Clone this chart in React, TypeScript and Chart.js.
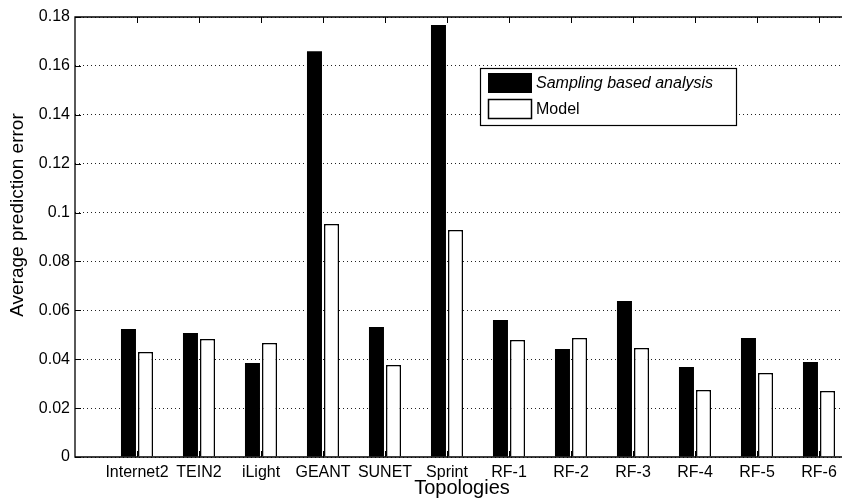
import React, { useEffect, useRef } from "react";
import { Chart, registerables } from "chart.js";

Chart.register(...registerables);

const categories = ["Internet2", "TEIN2", "iLight", "GEANT", "SUNET", "Sprint", "RF-1", "RF-2", "RF-3", "RF-4", "RF-5", "RF-6"];
const samplingValues = [0.0524, 0.0507, 0.0385, 0.166, 0.0532, 0.1767, 0.056, 0.0442, 0.0638, 0.0368, 0.0487, 0.0389];
const modelValues = [0.043, 0.0483, 0.0466, 0.0953, 0.0376, 0.0929, 0.0479, 0.0487, 0.0446, 0.0274, 0.0344, 0.027];
const yTickValues = [0, 0.02, 0.04, 0.06, 0.08, 0.1, 0.12, 0.14, 0.16, 0.18];
const yTickLabels = ["0", "0.02", "0.04", "0.06", "0.08", "0.1", "0.12", "0.14", "0.16", "0.18"];
const seriesNames = ["Sampling based analysis", "Model"];
const xTitle = "Topologies";
const yTitle = "Average prediction error";

const FONT = "'Liberation Sans', Arial, Helvetica, sans-serif";

const framePlugin = {
  id: "frame",
  afterDatasetsDraw(chart: any) {
    const { ctx, chartArea } = chart;
    const { left, right, top, bottom } = chartArea;
    const xs = chart.scales.x;
    const ys = chart.scales.y;
    ctx.save();
    ctx.strokeStyle = "#000";
    ctx.lineWidth = 1.3;
    ctx.beginPath();
    ctx.moveTo(left, top);
    ctx.lineTo(right, top);
    ctx.lineTo(right, bottom);
    ctx.lineTo(left, bottom);
    ctx.closePath();
    ctx.stroke();
    const tl = 6;
    ctx.lineWidth = 1;
    ctx.beginPath();
    for (let i = 1; i <= categories.length; i++) {
      const x = Math.round(xs.getPixelForValue(i)) + 0.5;
      ctx.moveTo(x, top);
      ctx.lineTo(x, top + tl);
      ctx.moveTo(x, bottom);
      ctx.lineTo(x, bottom - tl);
    }
    yTickValues.forEach((v) => {
      const y = Math.round(ys.getPixelForValue(v)) + 0.5;
      ctx.moveTo(left, y);
      ctx.lineTo(left + tl, y);
      ctx.moveTo(right, y);
      ctx.lineTo(right - tl, y);
    });
    ctx.stroke();
    ctx.restore();
  },
};

const legendPlugin = {
  id: "boxLegend",
  afterDraw(chart: any) {
    const { ctx, chartArea } = chart;
    const bx = chartArea.left + 405;
    const by = chartArea.top + 51;
    const bw = 256;
    const bh = 57;
    ctx.save();
    ctx.fillStyle = "#fff";
    ctx.fillRect(bx, by, bw, bh);
    ctx.strokeStyle = "#000";
    ctx.lineWidth = 1.2;
    ctx.strokeRect(bx + 0.5, by + 0.5, bw, bh);
    // swatches
    ctx.fillStyle = "#000";
    ctx.fillRect(bx + 8, by + 5, 44, 20);
    ctx.fillStyle = "#fff";
    ctx.fillRect(bx + 8, by + 31, 44, 20);
    ctx.lineWidth = 1.5;
    ctx.strokeRect(bx + 8.5, by + 31.5, 43, 19);
    ctx.fillStyle = "#000";
    ctx.textBaseline = "middle";
    ctx.textAlign = "left";
    ctx.font = `italic 16px ${FONT}`;
    ctx.fillText(seriesNames[0], bx + 56, by + 16);
    ctx.font = `16px ${FONT}`;
    ctx.fillText(seriesNames[1], bx + 56, by + 42);
    ctx.restore();
  },
};

const titlePlugin = {
  id: "axisTitles",
  afterDraw(chart: any) {
    const { ctx } = chart;
    ctx.save();
    ctx.fillStyle = "#000";
    ctx.textAlign = "center";
    ctx.textBaseline = "middle";
    ctx.font = `20px ${FONT}`;
    ctx.fillText(xTitle, 462, 488);
    ctx.translate(18, 215);
    ctx.rotate(-Math.PI / 2);
    ctx.font = `19px ${FONT}`;
    ctx.fillText(yTitle, 0, 0);
    ctx.restore();
  },
};

export default function App() {
  const canvasRef = useRef<HTMLCanvasElement | null>(null);

  useEffect(() => {
    if (!canvasRef.current) return;
    const labels = ["", ...categories, ""];
    const chart = new Chart(canvasRef.current, {
      type: "bar",
      data: {
        labels,
        datasets: [
          {
            label: seriesNames[0],
            data: [null, ...samplingValues, null],
            backgroundColor: "#000",
            borderColor: "#000",
            borderWidth: 0,
            barPercentage: 0.88,
            categoryPercentage: 0.55,
          },
          {
            label: seriesNames[1],
            data: [null, ...modelValues, null],
            backgroundColor: "#fff",
            borderColor: "#000",
            borderWidth: 1.5,
            barPercentage: 0.88,
            categoryPercentage: 0.55,
          },
        ],
      },
      options: {
        responsive: false,
        animation: false,
        devicePixelRatio: 1,
        layout: { padding: { left: 0, top: 17, right: 19, bottom: 0 } },
        plugins: {
          legend: { display: false },
          tooltip: { enabled: false },
        },
        scales: {
          x: {
            type: "category",
            offset: false,
            grid: { display: false, drawTicks: false },
            border: { display: false },
            ticks: {
              autoSkip: false,
              maxRotation: 0,
              padding: 6,
              color: "#000",
              font: { family: FONT, size: 16 },
            },
            afterFit: (s: any) => {
              s.height = 41;
            },
          },
          y: {
            min: 0,
            max: 0.18,
            grid: { color: "#222", lineWidth: 1, drawTicks: false },
            border: { display: false, dash: [1, 3] },
            afterBuildTicks: (s: any) => {
              s.ticks = yTickValues.map((v) => ({ value: v }));
            },
            ticks: {
              padding: 5,
              color: "#000",
              font: { family: FONT, size: 16 },
              callback: (v: any) => {
                const i = yTickValues.findIndex((t) => Math.abs(t - Number(v)) < 1e-9);
                return i >= 0 ? yTickLabels[i] : "";
              },
            },
            afterFit: (s: any) => {
              s.width = 75;
            },
          },
        },
      },
      plugins: [framePlugin, legendPlugin, titlePlugin],
    } as any);
    return () => chart.destroy();
  }, []);

  return (
    <div
      style={{
        position: "fixed",
        left: 0,
        top: 0,
        width: 842,
        height: 498,
        overflow: "hidden",
        background: "#fff",
      }}
    >
      <canvas ref={canvasRef} width={900} height={498} style={{ display: "block" }} />
    </div>
  );
}
